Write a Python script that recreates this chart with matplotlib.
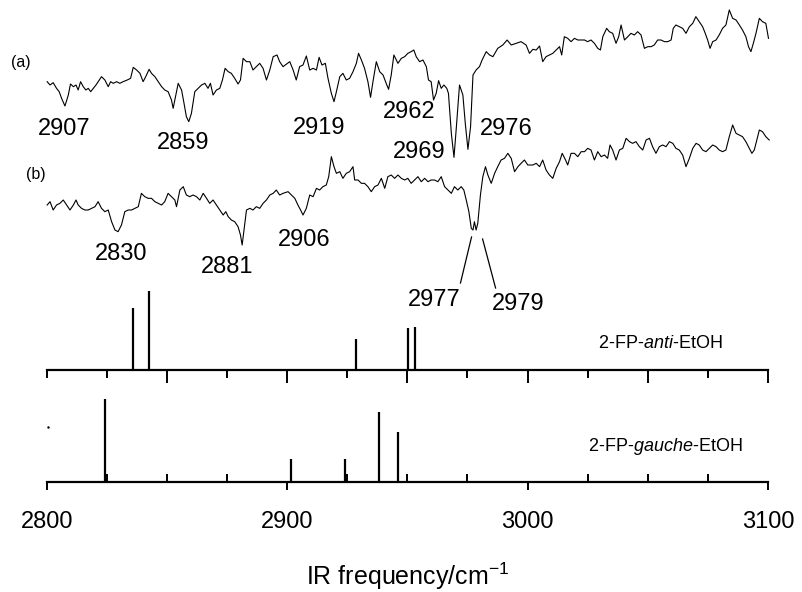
import matplotlib
matplotlib.use("Agg")
import matplotlib.pyplot as plt
from matplotlib.ticker import MultipleLocator

plt.rcParams['font.family'] = ['Liberation Sans', 'DejaVu Sans']
plt.rcParams['mathtext.fontset'] = 'custom'
plt.rcParams['mathtext.rm'] = 'Liberation Sans'
plt.rcParams['mathtext.it'] = 'Liberation Sans:italic'

# experimental traces (a) and (b), x in cm-1, y in arbitrary units
trace_a_x = [2800.2, 2801.4, 2802.7, 2804.1, 2805.2, 2806.2, 2807.6, 2809.0, 2809.9, 2811.1,
             2812.2, 2813.1, 2814.1, 2815.2, 2816.3, 2817.3, 2818.3, 2819.4, 2820.5, 2821.4,
             2822.8, 2824.2, 2825.6, 2826.6, 2827.7, 2829.1, 2830.4, 2831.8, 2833.5, 2834.9,
             2836.0, 2837.4, 2838.8, 2840.1, 2841.2, 2842.6, 2843.6, 2845.0, 2846.4, 2847.8,
             2849.1, 2850.5, 2851.9, 2852.6, 2853.3, 2854.7, 2856.1, 2857.0, 2858.1, 2859.1,
             2860.2, 2861.6, 2863.0, 2864.4, 2865.8, 2867.1, 2868.1, 2869.2, 2870.6, 2872.0,
             2873.1, 2874.2, 2875.5, 2876.8, 2878.2, 2879.6, 2880.6, 2881.7, 2883.1, 2884.5,
             2885.8, 2887.2, 2888.6, 2890.0, 2891.4, 2892.8, 2894.2, 2895.8, 2896.9, 2898.3,
             2901.1, 2902.5, 2903.8, 2905.2, 2906.6, 2908.0, 2909.4, 2910.8, 2912.2, 2913.3,
             2914.5, 2915.9, 2917.0, 2918.4, 2919.5, 2920.5, 2921.9, 2923.2, 2924.6, 2926.0,
             2927.4, 2928.8, 2929.7, 2930.9, 2932.2, 2933.6, 2934.7, 2935.7, 2937.1, 2938.5,
             2939.9, 2941.2, 2942.2, 2943.3, 2944.4, 2946.1, 2947.5, 2948.9, 2950.2, 2951.6,
             2952.7, 2953.7, 2955.1, 2956.5, 2957.9, 2958.8, 2959.9, 2960.9, 2962.0, 2963.0,
             2964.1, 2965.2, 2966.4, 2967.1, 2968.3, 2969.4, 2970.3, 2971.7, 2973.1, 2974.1,
             2975.2, 2976.3, 2977.3, 2978.6, 2980.0, 2981.1, 2982.8, 2984.2, 2985.6, 2987.6,
             2989.7, 2991.5, 2993.2, 2995.3, 2997.3, 2999.4, 3000.8,
             3002.2, 3003.6, 3005.0, 3006.3, 3007.7, 3009.1, 3010.5, 3011.9, 3013.3, 3014.2,
             3015.3, 3016.7, 3018.1, 3019.5, 3020.9, 3022.3, 3023.7, 3025.0, 3026.4, 3027.8,
             3029.2, 3030.3, 3031.3, 3032.9, 3034.0, 3035.4, 3036.8, 3037.9, 3038.9, 3040.3,
             3041.7, 3043.0, 3044.4, 3045.8, 3047.2, 3048.6, 3050.0, 3051.4, 3052.7, 3054.1,
             3055.5, 3056.9, 3058.3, 3059.7, 3060.6, 3061.7, 3063.1, 3064.5, 3065.9, 3067.3,
             3068.7, 3070.0, 3071.4, 3072.8, 3073.9, 3074.9, 3075.9, 3077.0, 3078.4, 3079.7,
             3081.1, 3082.5, 3083.9, 3085.3, 3086.7, 3088.1, 3089.4, 3090.8, 3091.9, 3092.9,
             3093.9, 3095.0, 3096.4, 3097.7, 3099.1, 3100.2]
trace_a_y = [755, 745, 752, 735, 725, 705, 682, 715, 748, 740,
             745, 730, 755, 740, 730, 735, 725, 735, 745, 755,
             770, 760, 740, 755, 750, 755, 750, 755, 760, 765,
             798, 790, 780, 755, 770, 792, 780, 770, 755, 740,
             730, 725, 700, 675, 700, 750, 730, 695, 650, 635,
             660, 725, 735, 745, 750, 735, 750, 715, 730, 735,
             760, 795, 785, 780, 765, 748, 760, 825, 815, 815,
             790, 800, 810, 795, 760, 790, 830, 835, 815, 800,
             815, 790, 760, 800, 805, 832, 790, 795, 790, 828,
             805, 810, 765, 720, 695, 725, 770, 780, 760, 765,
             785, 810, 840, 820, 795, 755, 708, 755, 815, 785,
             775, 750, 732, 775, 835, 810, 825, 830, 840, 845,
             850, 830, 815, 820, 800, 760, 755, 700, 720, 758,
             735, 745, 735, 720, 600, 528, 610, 745, 715, 630,
             552, 620, 775, 790, 800, 820, 845, 835, 830, 855,
             865, 880, 865, 870, 875, 865, 840,
             852, 850, 862, 815, 830, 835, 840, 850, 860, 835,
             890, 885, 875, 885, 880, 880, 880, 875, 880, 870,
             855, 850, 890, 915, 905, 900, 870, 890, 925, 880,
             890, 900, 895, 905, 895, 855, 860, 860, 865, 880,
             880, 875, 875, 880, 915, 925, 920, 915, 900, 920,
             930, 950, 935, 920, 900, 880, 855, 875, 880, 895,
             915, 925, 970, 945, 940, 925, 910, 890, 860, 845,
             870, 900, 945, 935, 930, 885]

trace_b_x = [2800.2, 2801.4, 2802.7, 2804.1, 2805.5, 2806.9, 2808.3, 2809.7, 2811.1, 2812.2,
             2813.1, 2814.5, 2815.9, 2817.3, 2818.7, 2820.1, 2821.4, 2822.8, 2824.2, 2825.6,
             2827.0, 2828.4, 2829.7, 2831.1, 2832.5, 2833.9, 2835.3, 2836.7, 2838.1, 2839.4,
             2840.8, 2842.2, 2843.6, 2845.0, 2846.4, 2847.8, 2849.1, 2850.5, 2851.9, 2853.3,
             2854.0, 2855.4, 2856.8, 2858.1, 2859.5, 2860.9, 2862.3, 2863.7, 2865.1, 2866.5,
             2867.8, 2869.2, 2870.6, 2872.0, 2873.4, 2874.5, 2875.5, 2876.8, 2878.2, 2879.6,
             2880.6, 2881.3, 2882.0, 2883.1, 2884.5, 2885.8, 2887.2, 2888.6, 2890.0, 2891.4,
             2892.8, 2894.2, 2895.5, 2896.9, 2898.3,
             2900.4, 2901.8, 2903.2, 2904.5, 2905.6, 2906.6, 2908.0, 2909.4, 2910.8, 2912.2,
             2913.5, 2914.9, 2916.3, 2917.3, 2918.4, 2919.5, 2920.5, 2921.9, 2923.2, 2924.6,
             2926.0, 2927.4, 2928.1, 2929.5, 2930.9, 2932.2, 2933.6, 2935.0, 2936.4, 2937.8,
             2939.2, 2940.6, 2941.9, 2943.3, 2944.7, 2946.1, 2947.5, 2948.9, 2950.2, 2951.6,
             2953.0, 2954.4, 2955.8, 2957.2, 2958.6, 2959.9, 2961.3, 2962.7, 2964.1, 2965.5,
             2966.9, 2968.3, 2969.6, 2971.0, 2972.4, 2973.5, 2974.5, 2975.6, 2976.6, 2977.3,
             2977.9, 2978.6, 2979.3, 2980.4, 2981.4, 2982.5, 2983.5, 2984.9, 2986.3, 2987.6,
             2989.0, 2990.4, 2991.8, 2993.2, 2994.6, 2996.0, 2997.3, 2998.7, 3000.1,
             3002.2, 3003.6, 3005.0, 3006.3, 3007.7, 3009.1, 3010.5, 3011.9, 3013.3, 3014.4,
             3015.8, 3016.7, 3018.1, 3019.5, 3020.9, 3022.3, 3023.7, 3025.0, 3026.4, 3027.8,
             3029.2, 3030.6, 3032.0, 3033.3, 3034.3, 3035.4, 3036.8, 3038.2, 3039.6, 3041.0,
             3042.4, 3043.7, 3045.1, 3046.5, 3047.9, 3049.3, 3050.7, 3052.0, 3053.4, 3054.8,
             3056.2, 3057.6, 3059.0, 3060.4, 3061.7, 3063.1, 3064.5, 3065.9, 3067.3, 3068.7,
             3070.1, 3071.4, 3072.8, 3074.2, 3075.6, 3077.0, 3078.4, 3079.7, 3081.1, 3082.5,
             3083.9, 3085.3, 3086.7, 3088.1, 3089.4, 3090.8, 3092.2, 3093.3, 3094.3, 3095.7,
             3096.4, 3097.7, 3099.1, 3100.5]
trace_b_y = [385, 395, 370, 385, 390, 400, 385, 370, 385, 400,
             385, 375, 370, 370, 375, 380, 395, 375, 365, 370,
             335, 310, 305, 325, 365, 370, 370, 375, 380, 420,
             410, 405, 405, 395, 390, 385, 395, 420, 410, 400,
             380, 430, 440, 415, 410, 415, 410, 400, 420, 405,
             390, 400, 385, 370, 355, 365, 350, 340, 335, 320,
             295, 265, 305, 370, 375, 370, 380, 375, 390, 400,
             415, 420, 430, 415, 420,
             425, 415, 405, 385, 370, 355, 375, 415, 410, 435,
             430, 440, 445, 470, 530, 500, 480, 485, 465, 480,
             485, 500, 460, 460, 450, 450, 440, 425, 440, 445,
             465, 435, 470, 475, 465, 475, 465, 460, 465, 450,
             460, 470, 455, 465, 455, 460, 460, 455, 470, 440,
             430, 420, 440, 430, 440, 430, 400, 365, 315, 310,
             335, 310, 330, 415, 470, 500, 475, 450, 480, 500,
             520, 525, 540, 525, 485, 500, 510, 520, 505,
             505, 510, 500, 520, 490, 475, 465, 495, 515, 540,
             520, 505, 540, 540, 530, 545, 545, 555, 550, 520,
             545, 530, 535, 525, 565, 550, 520, 550, 555, 585,
             575, 570, 575, 560, 550, 580, 585, 560, 540, 560,
             565, 560, 575, 570, 555, 550, 535, 500, 525, 555,
             570, 565, 550, 545, 555, 565, 560, 550, 545, 550,
             590, 625, 600, 595, 590, 575, 555, 540, 550, 590,
             610, 605, 590, 580]

# calculated stick spectra
anti_freq = [2836.0, 2842.6, 2928.8, 2950.3, 2953.3]
anti_int = [62, 79, 31, 42, 43]
gauche_freq = [2824.3, 2901.8, 2924.1, 2938.2, 2946.3]
gauche_int = [83, 23, 23, 70, 50]
# stray dot at the left of the gauche panel
dot_x = [2800.5]
dot_y = [55]

# band labels on the traces
labels_a = ["2907", "2859", "2919", "2962", "2969", "2976"]
labels_a_x = [2807.2, 2856.7, 2913.5, 2950.9, 2955.1, 2991.3]
labels_a_y = [613, 571, 616, 664, 544, 613]
labels_b = ["2830", "2881", "2906", "2977", "2979"]
labels_b_x = [2830.9, 2874.9, 2907.3, 2961.3, 2996.2]
labels_b_y = [238, 199, 280, 100, 88]

fig = plt.figure(figsize=(8.02, 5.92), dpi=100)

# middle panel: anti conformer
ax2 = fig.add_axes([0.0582, 0.375, 0.8994, 0.152])
ax2.patch.set_visible(False)
ax2.vlines(anti_freq, 0, anti_int, color='k', lw=1.6)
ax2.set_xlim(2800, 3100)
ax2.set_ylim(0, 90)
for s in ['top', 'left', 'right']:
    ax2.spines[s].set_visible(False)
ax2.spines['bottom'].set_linewidth(1.6)
ax2.set_yticks([])
ax2.set_xticks(range(2850, 3101, 50))
ax2.xaxis.set_minor_locator(MultipleLocator(25))
ax2.tick_params(axis='x', which='major', direction='out', length=9.5, width=1.4, labelbottom=False)
ax2.tick_params(axis='x', which='minor', direction='out', length=5.5, width=1.4)
ax2.text(0.85, 0.3, "2-FP-$\\mathit{anti}$-EtOH", transform=ax2.transAxes,
         fontsize=13, ha='center', va='center')

# bottom panel: gauche conformer
ax3 = fig.add_axes([0.0582, 0.1858, 0.8994, 0.152])
ax3.patch.set_visible(False)
ax3.vlines(gauche_freq, 0, gauche_int, color='k', lw=1.6)
ax3.plot(dot_x, dot_y, 'k.', ms=1.5)
ax3.set_xlim(2800, 3100)
ax3.set_ylim(0, 90)
for s in ['top', 'left', 'right']:
    ax3.spines[s].set_visible(False)
ax3.spines['bottom'].set_linewidth(1.6)
ax3.set_yticks([])
ax3.xaxis.set_major_locator(MultipleLocator(100))
ax3.xaxis.set_minor_locator(MultipleLocator(25))
ax3.tick_params(axis='x', which='major', direction='out', length=6, width=1.4, labelsize=17, pad=15)
ax3.tick_params(axis='x', which='minor', direction='in', length=5.5, width=1.4)
ax3.text(0.857, 0.39, "2-FP-$\\mathit{gauche}$-EtOH", transform=ax3.transAxes,
         fontsize=13, ha='center', va='center')
ax3.set_xlabel("IR frequency/cm$^{-1}$", fontsize=18, labelpad=20)

# top panel: the two measured spectra (drawn last so labels sit on top)
ax1 = fig.add_axes([0.0582, 0.5608, 0.8994, 0.4392])
ax1.plot(trace_a_x, trace_a_y, color='k', lw=0.8, clip_on=False)
ax1.plot(trace_b_x, trace_b_y, color='k', lw=0.8, clip_on=False)
ax1.set_xlim(2800, 3100)
ax1.set_ylim(220, 1000)
ax1.axis('off')

ax1.text(2789.3, 814, "(a)", fontsize=11.5, ha='center', va='center')
ax1.text(2795.6, 478, "(b)", fontsize=11.5, ha='center', va='center')
for t, x, y in zip(labels_a, labels_a_x, labels_a_y):
    ax1.text(x, y, t, fontsize=17, ha='center', va='center')
for t, x, y in zip(labels_b, labels_b_x, labels_b_y):
    ax1.text(x, y, t, fontsize=17, ha='center', va='center')
# leader lines for 2977 / 2979
ax1.plot([2976.7, 2972.1], [289, 151], color='k', lw=0.9, clip_on=False)
ax1.plot([2981.3, 2986.7], [283, 136], color='k', lw=0.9, clip_on=False)

plt.savefig("out.png", dpi=100)
